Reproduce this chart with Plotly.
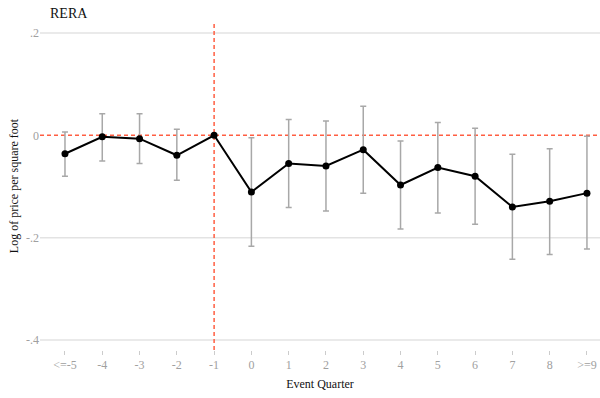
import plotly.graph_objects as go

# Event-study estimates by quarter relative to RERA
quarters = ["<=-5", "-4", "-3", "-2", "-1", "0", "1", "2", "3", "4", "5", "6", "7", "8", ">=9"]
coef = [-0.036, -0.003, -0.0065, -0.039, 0.0, -0.111, -0.055, -0.060, -0.028,
        -0.097, -0.063, -0.080, -0.140, -0.129, -0.113]
ci_upper = [0.0065, 0.042, 0.042, 0.012, None, -0.0045, 0.031, 0.028, 0.057,
            -0.011, 0.025, 0.014, -0.037, -0.026, -0.002]
ci_lower = [-0.080, -0.050, -0.055, -0.088, None, -0.217, -0.141, -0.148, -0.113,
            -0.183, -0.152, -0.174, -0.242, -0.233, -0.222]

y_ticks = [0.2, 0.0, -0.2, -0.4]
y_tick_text = [".2", "0", "-.2", "-.4"]
ref_quarter = "-1"

pos = list(range(len(quarters)))
err_vis = [u is not None for u in ci_upper]
ci_pos = [p for p, v in zip(pos, err_vis) if v]

serif = "Liberation Serif, Times New Roman, serif"
red = "#ff5e42"

fig = go.Figure()

# Horizontal gridlines (the zero line is drawn as a red reference line instead)
for yv in y_ticks:
    if yv != 0:
        fig.add_hline(y=yv, line=dict(color="#e3e3e3", width=1.5), layer="below")

# Confidence intervals (grey bars with caps)
fig.add_trace(go.Scatter(
    x=ci_pos,
    y=[coef[p] for p in ci_pos],
    mode="markers",
    marker=dict(size=0.1, color="rgba(0,0,0,0)"),
    error_y=dict(type="data", symmetric=False,
                 array=[ci_upper[p] - coef[p] for p in ci_pos],
                 arrayminus=[coef[p] - ci_lower[p] for p in ci_pos],
                 color="#a8a8a8", thickness=1.5, width=3),
    hoverinfo="skip", showlegend=False,
))

# Reference lines
fig.add_hline(y=0, line=dict(color=red, width=1.5, dash="4px,3px"), layer="below")
fig.add_vline(x=quarters.index(ref_quarter), line=dict(color=red, width=1.5, dash="4px,3px"),
              layer="below")

# Point estimates
fig.add_trace(go.Scatter(
    x=pos, y=coef, mode="lines+markers",
    line=dict(color="black", width=2),
    marker=dict(color="black", size=7),
    showlegend=False,
))

fig.update_layout(
    width=600, height=398,
    margin=dict(l=40, r=0, t=22, b=48),
    paper_bgcolor="white", plot_bgcolor="white",
    font=dict(family=serif, color="#222"),
)
fig.add_annotation(text="RERA", xref="paper", yref="paper",
                   x=(48 - 40) / 560, y=1 + (22 - 14) / 328,
                   xanchor="left", yanchor="middle", showarrow=False,
                   font=dict(family=serif, size=14, color="#111"))

fig.update_xaxes(
    range=[-0.67, 14.35],
    tickmode="array", tickvals=pos, ticktext=quarters,
    ticks="outside", ticklen=4, tickwidth=1, tickcolor="#cccccc",
    tickfont=dict(family=serif, size=12, color="#a0a0a0"),
    showgrid=False, zeroline=False, showline=False,
    title=dict(text="Event Quarter", font=dict(family=serif, size=12, color="#111"),
               standoff=8),
)
fig.update_yaxes(
    range=[-0.4196, 0.2215],
    tickmode="array", tickvals=y_ticks, ticktext=y_tick_text,
    ticks="", tickfont=dict(family=serif, size=12, color="#a0a0a0"),
    showgrid=False, zeroline=False, showline=False,
    title=dict(text="Log of price per square foot",
               font=dict(family=serif, size=12, color="#111"), standoff=4),
)

fig.write_html("out.html")
